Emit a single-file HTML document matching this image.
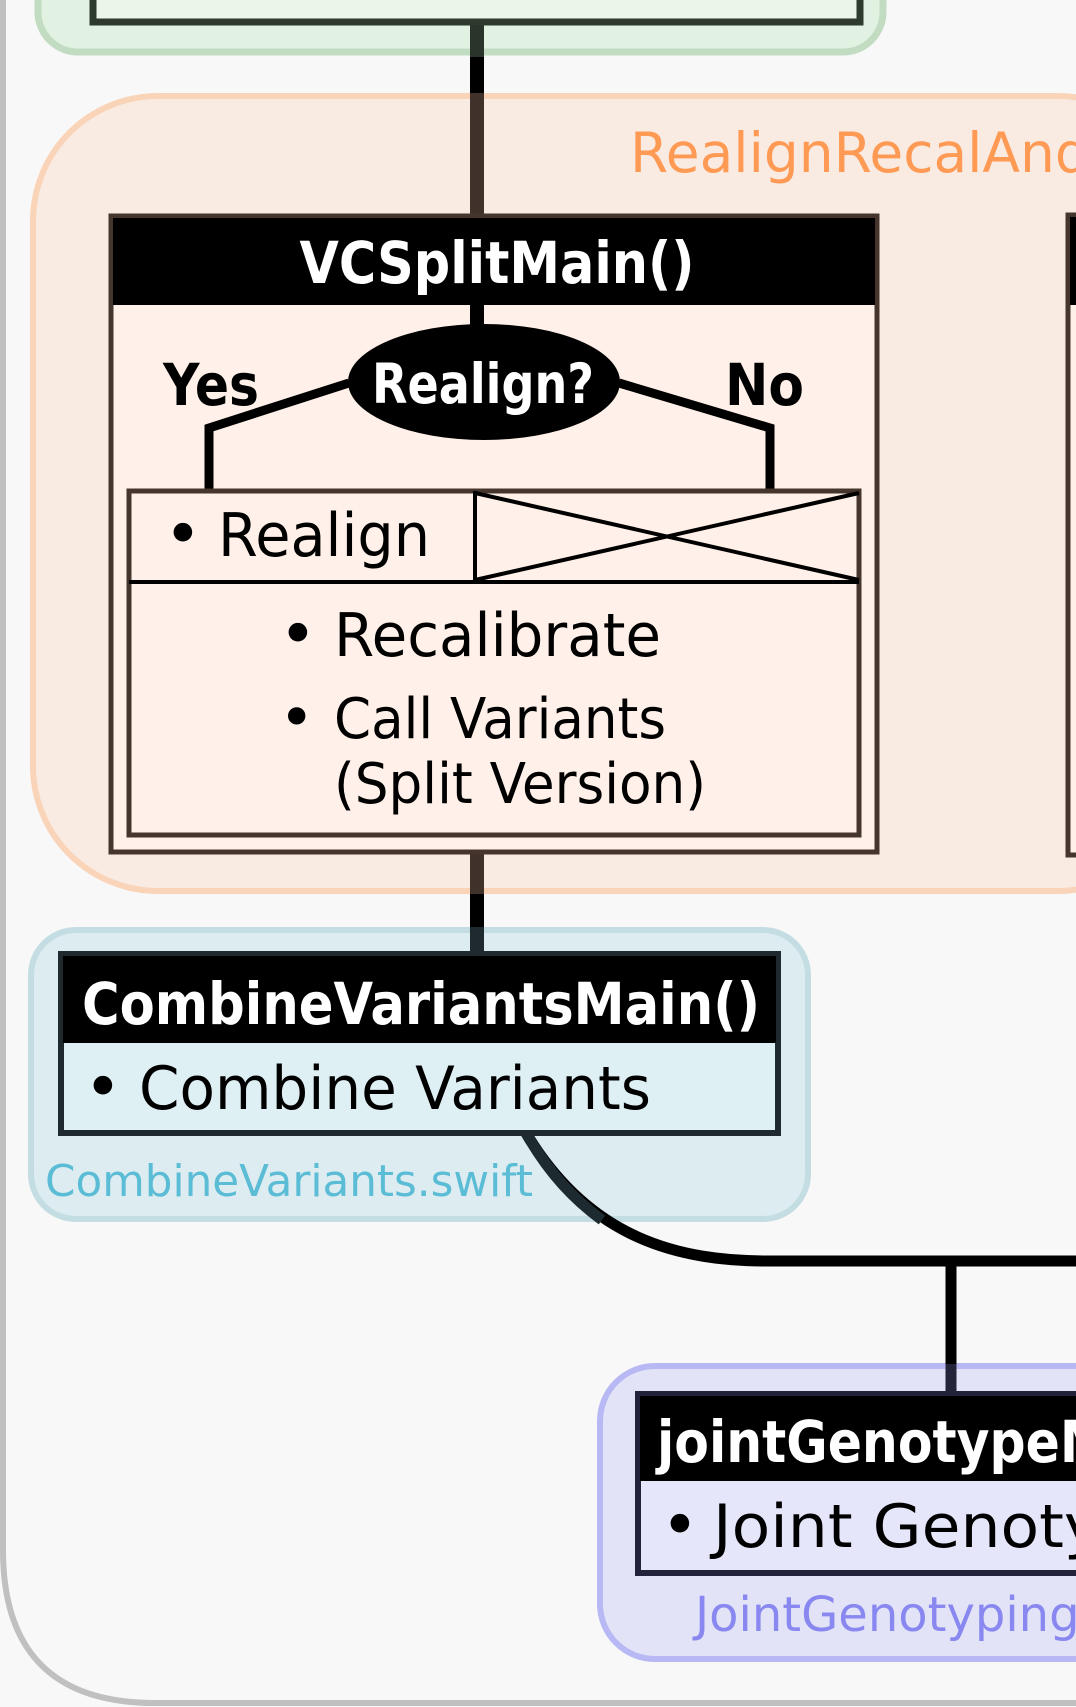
<!DOCTYPE html>
<html><head><meta charset="utf-8"><style>
html,body{margin:0;padding:0;background:#f8f8f8;}
svg{display:block;}
text{font-family:"DejaVu Sans","Liberation Sans",sans-serif;}
</style></head><body>
<svg width="1076" height="1707" viewBox="0 0 1076 1707" xmlns="http://www.w3.org/2000/svg">
<rect x="0" y="0" width="1076" height="1707" fill="#f8f8f8"/>
<path d="M3,-10 L3,1550 Q3,1703 155,1703 L1090,1703" fill="none" stroke="#c0c0c0" stroke-width="6"/>
<rect x="38" y="-60" width="845" height="112" rx="40" fill="#e2f2e2" stroke="#c2dcc2" stroke-width="7"/>
<rect x="93" y="-40" width="767" height="62" fill="#eaf6ea" stroke="#2e3a2e" stroke-width="7"/>
<rect x="33" y="96" width="1150" height="795" rx="125" fill="#f9ebe2" stroke="#fad4b8" stroke-width="6"/>
<text x="630" y="172" font-size="55" fill="#ff9a55">RealignRecalAnd</text>
<rect x="31" y="930" width="777" height="289" rx="45" fill="#dcecf0" stroke="#c4dde3" stroke-width="6"/>
<rect x="600" y="1366" width="560" height="293" rx="55" fill="#e3e3f7" stroke="#b8b8f5" stroke-width="6"/>
<line x1="477" y1="25" x2="477" y2="57" stroke="#2a342a" stroke-width="14"/>
<line x1="477" y1="57" x2="477" y2="93" stroke="#000" stroke-width="14"/>
<line x1="477" y1="93" x2="477" y2="216" stroke="#40322a" stroke-width="14"/>
<line x1="477" y1="852" x2="477" y2="894" stroke="#40322a" stroke-width="14"/>
<line x1="477" y1="894" x2="477" y2="927" stroke="#000" stroke-width="14"/>
<line x1="477" y1="927" x2="477" y2="956" stroke="#1f2a2e" stroke-width="14"/>
<path d="M526,1133 C590,1240 680,1261 768,1261 L1080,1261" fill="none" stroke="#000" stroke-width="11"/>
<path d="M526,1133 C550,1175 575,1200 602,1220" fill="none" stroke="#1d2b30" stroke-width="11"/>
<line x1="951" y1="1261" x2="951" y2="1364" stroke="#000" stroke-width="11"/>
<line x1="951" y1="1364" x2="951" y2="1396" stroke="#23233a" stroke-width="11"/>
<rect x="1068" y="215" width="30" height="640" fill="#fff1e9" stroke="#45352d" stroke-width="5"/>
<rect x="1070" y="217" width="30" height="88" fill="#000"/>
<rect x="111" y="216" width="766" height="636" fill="#fff1e9" stroke="#45352d" stroke-width="5"/>
<rect x="113" y="218" width="762" height="87" fill="#000"/>
<text x="497" y="283" font-size="58" font-weight="bold" fill="#fff" text-anchor="middle" textLength="395" lengthAdjust="spacingAndGlyphs">VCSplitMain()</text>
<line x1="477" y1="305" x2="477" y2="330" stroke="#000" stroke-width="14"/>
<path d="M349,383 L209,428 L209,491" fill="none" stroke="#000" stroke-width="9"/>
<path d="M619,383 L770,428 L770,491" fill="none" stroke="#000" stroke-width="9"/>
<ellipse cx="484" cy="382" rx="136" ry="58" fill="#000"/>
<text x="483" y="403" font-size="55" font-weight="bold" fill="#fff" text-anchor="middle" textLength="222" lengthAdjust="spacingAndGlyphs">Realign?</text>
<text x="163" y="405" font-size="58" font-weight="bold" fill="#000" textLength="96" lengthAdjust="spacingAndGlyphs">Yes</text>
<text x="725" y="405" font-size="58" font-weight="bold" fill="#000" textLength="79" lengthAdjust="spacingAndGlyphs">No</text>
<rect x="129" y="491" width="730" height="344" fill="#fff1e9" stroke="#45352d" stroke-width="5"/>
<line x1="129" y1="582" x2="859" y2="582" stroke="#000" stroke-width="4"/>
<line x1="475" y1="491" x2="475" y2="582" stroke="#000" stroke-width="4"/>
<line x1="475" y1="493" x2="859" y2="580" stroke="#000" stroke-width="4"/>
<line x1="475" y1="580" x2="859" y2="493" stroke="#000" stroke-width="4"/>
<text x="164" y="556" font-size="64" fill="#000">•</text>
<text x="218" y="556" font-size="60" fill="#000" textLength="212" lengthAdjust="spacingAndGlyphs">Realign</text>
<text x="279" y="656" font-size="64" fill="#000">•</text>
<text x="334" y="656" font-size="60" fill="#000" textLength="327" lengthAdjust="spacingAndGlyphs">Recalibrate</text>
<text x="279" y="738" font-size="60" fill="#000">•</text>
<text x="334" y="738" font-size="56" fill="#000" textLength="332" lengthAdjust="spacingAndGlyphs">Call Variants</text>
<text x="334" y="803" font-size="56" fill="#000" textLength="372" lengthAdjust="spacingAndGlyphs">(Split Version)</text>
<rect x="61" y="954" width="717" height="179" fill="#dff0f4" stroke="#1f2a2e" stroke-width="6"/>
<rect x="63" y="956" width="713" height="87" fill="#000"/>
<text x="82" y="1024" font-size="58" font-weight="bold" fill="#fff" textLength="678" lengthAdjust="spacingAndGlyphs">CombineVariantsMain()</text>
<text x="84" y="1109" font-size="64" fill="#000">•</text>
<text x="139" y="1109" font-size="60" fill="#000" textLength="512" lengthAdjust="spacingAndGlyphs">Combine Variants</text>
<text x="45" y="1196" font-size="44" fill="#5bbcd6" textLength="488" lengthAdjust="spacingAndGlyphs">CombineVariants.swift</text>
<rect x="638" y="1394" width="500" height="179" fill="#e6e6fa" stroke="#22223a" stroke-width="6"/>
<rect x="640" y="1396" width="500" height="85" fill="#000"/>
<text x="657" y="1462" font-size="58" font-weight="bold" fill="#fff" transform="translate(657 0) scale(0.87 1) translate(-657 0)">jointGenotypeMain()</text>
<text x="661" y="1547" font-size="64" fill="#000">•</text>
<text x="713" y="1547" font-size="60" fill="#000" textLength="526" lengthAdjust="spacingAndGlyphs">Joint Genotyping</text>
<text x="695" y="1631" font-size="48" fill="#8888f0">JointGenotyping.swift</text>
</svg>
</body></html>
